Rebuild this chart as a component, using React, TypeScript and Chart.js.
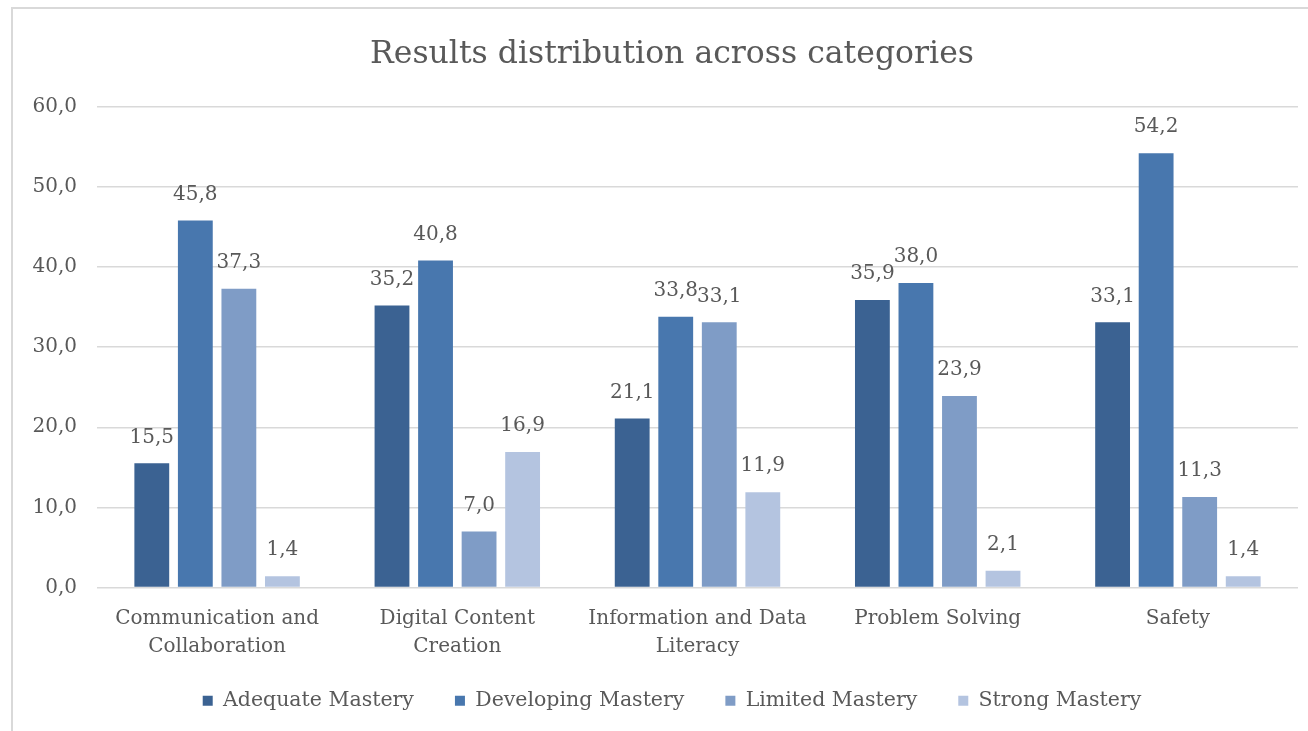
import React, { useEffect, useRef } from "react";
import { Chart, registerables } from "chart.js";

Chart.register(...registerables);

const categories: string[][] = [
  ["Communication and", "Collaboration"],
  ["Digital Content", "Creation"],
  ["Information and Data", "Literacy"],
  ["Problem Solving"],
  ["Safety"],
];
const seriesNames = ["Adequate Mastery", "Developing Mastery", "Limited Mastery", "Strong Mastery"];
const adequate = [15.5, 35.2, 21.1, 35.9, 33.1];
const developing = [45.8, 40.8, 33.8, 38.0, 54.2];
const limited = [37.3, 7.0, 33.1, 23.9, 11.3];
const strong = [1.4, 16.9, 11.9, 2.1, 1.4];
const seriesColors = ["#3B6292", "#4877AE", "#7F9CC6", "#B4C4E0"];
const yMin = 0;
const yMax = 60;
const yStep = 10;

const FONT = "'DejaVu Serif', serif";
const TEXT = "#595959";

const fmt = (v: number) => v.toFixed(1).replace(".", ",");

const labelPlugin = {
  id: "barLabels",
  afterDatasetsDraw(chart: any) {
    const ctx = chart.ctx;
    ctx.save();
    ctx.font = `20px ${FONT}`;
    ctx.fillStyle = TEXT;
    ctx.textAlign = "center";
    ctx.textBaseline = "middle";
    chart.data.datasets.forEach((ds: any, i: number) => {
      const meta = chart.getDatasetMeta(i);
      meta.data.forEach((el: any, j: number) => {
        ctx.fillText(fmt(ds.data[j]), el.x, el.y - 26);
      });
    });
    ctx.restore();
  },
};

const legendShiftPlugin = {
  id: "legendShift",
  afterLayout(chart: any) {
    const lg = chart.legend;
    if (lg) {
      lg.top -= 28;
      lg.bottom -= 28;
    }
  },
};

export default function App() {
  const ref = useRef<HTMLCanvasElement | null>(null);
  useEffect(() => {
    if (!ref.current) return;
    const values = [adequate, developing, limited, strong];
    const chart = new Chart(ref.current, {
      type: "bar",
      data: {
        labels: categories,
        datasets: seriesNames.map((name, i) => ({
          label: name,
          data: values[i],
          backgroundColor: seriesColors[i],
          borderWidth: 0,
          barPercentage: 0.8,
          categoryPercentage: 0.725,
          yAxisID: "y",
        })),
      },
      options: {
        animation: false,
        responsive: false,
        maintainAspectRatio: false,
        layout: { padding: 0 },
        plugins: {
          title: {
            display: true,
            text: "Results distribution across categories",
            color: TEXT,
            font: { family: FONT, size: 31.5, weight: "normal" },
            padding: { top: 27, bottom: 33 },
          },
          legend: {
            position: "bottom",
            labels: {
              color: TEXT,
              font: { family: FONT, size: 20.5 },
              boxWidth: 10,
              boxHeight: 10,
              padding: 41,
            },
          },
          tooltip: { enabled: false },
        },
        scales: {
          x: {
            grid: { display: false, drawTicks: false },
            border: { display: false },
            ticks: {
              color: TEXT,
              font: { family: FONT, size: 20, lineHeight: 1.4 },
              padding: 17,
              maxRotation: 0,
              autoSkip: false,
            },
          },
          y: {
            min: yMin,
            max: yMax,
            afterFit: (scale: any) => {
              scale.width = 84;
            },
            grid: { color: "#D9D9D9", lineWidth: 1.5, drawTicks: false },
            border: { display: false },
            ticks: {
              stepSize: yStep,
              color: TEXT,
              font: { family: FONT, size: 20 },
              padding: 20,
              callback: (v: any) => fmt(Number(v)),
            },
          },
          yRight: {
            position: "right",
            display: true,
            grid: { display: false, drawTicks: false },
            border: { display: false },
            ticks: { display: false },
            afterFit: (scale: any) => {
              scale.width = 33;
            },
          },
        },
      },
      plugins: [labelPlugin, legendShiftPlugin],
    });
    return () => chart.destroy();
  }, []);

  return (
    <div
      style={{
        position: "fixed",
        left: 0,
        top: 0,
        width: 1308,
        height: 731,
        overflow: "hidden",
        background: "#fff",
      }}
    >
      <div
        style={{
          position: "absolute",
          left: 11,
          top: 7,
          width: 1400,
          height: 800,
          borderLeft: "2px solid #D9D9D9",
          borderTop: "2px solid #D9D9D9",
        }}
      />
      <canvas
        ref={ref}
        width={1318}
        height={740}
        style={{ position: "absolute", left: 13, top: 9, width: 1318, height: 740 }}
      />
    </div>
  );
}
